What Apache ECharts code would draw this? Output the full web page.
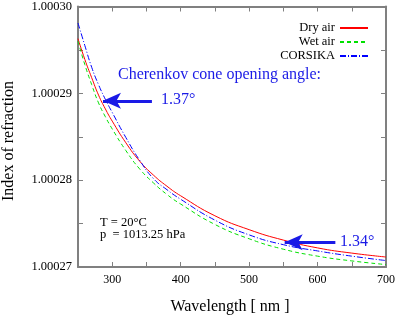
<!DOCTYPE html>
<html>
<head>
<meta charset="utf-8">
<script src="https://cdn.jsdelivr.net/npm/echarts@6/dist/echarts.min.js"></script>
<style>html,body{margin:0;padding:0;background:#fff;}#c{width:398px;height:317px;}</style>
</head>
<body>
<div id="c"></div>
<script>
// wavelength in nm
var wavelengths = [250, 260, 270, 280, 290, 300, 320, 340, 360, 380, 400, 450, 500, 550, 600, 650, 700];
// (n - 1) in units of 1e-6
var dryAir   = [296.3, 293.9, 291.8, 289.8, 288.2, 286.8, 284.3, 282.2, 280.6, 279.3, 278.2, 275.9, 274.3, 273.1, 272.2, 271.6, 271.15];
var wetAir   = [296.0, 293.3, 291.0, 288.9, 287.3, 285.9, 283.4, 281.3, 279.7, 278.35, 277.25, 274.9, 273.25, 272.05, 271.25, 270.7, 270.28];
var corsika  = [298.1, 295.5, 293.0, 291.0, 289.3, 287.8, 284.9, 282.3, 280.2, 278.9, 277.8, 275.4, 273.7, 272.57, 271.85, 271.25, 270.74];
var xTickLabels = [300, 400, 500, 600, 700];
var yTickLabels = ['1.00027', '1.00028', '1.00029', '1.00030'];
var arrow1 = [[358, 289.14], [286.5, 289.14]];
var arrow2 = [[626, 272.86], [552, 272.86]];

function pairs(ys) { return wavelengths.map(function (x, i) { return [x, ys[i]]; }); }

var serif = 'Liberation Serif';
var gray = '#808080';
var blue = '#1a1ae6';

var chart = echarts.init(document.getElementById('c'));
var axisCommon = {
  type: 'value',
  axisLine: { show: true, lineStyle: { color: gray, width: 2 } },
  axisTick: { show: true, inside: true, length: 5, lineStyle: { color: gray, width: 1 } },
  splitLine: { show: false }
};
chart.setOption({
  animation: false,
  grid: { left: 78, right: 12, top: 5, bottom: 50, containLabel: false },
  xAxis: [
    Object.assign({}, axisCommon, {
      position: 'bottom', min: 250, max: 700, interval: 50,
      axisLabel: { fontFamily: serif, fontSize: 12, color: '#000', margin: 7,
        formatter: function (v) { return xTickLabels.indexOf(v) >= 0 ? String(v) : ''; } }
    }),
    Object.assign({}, axisCommon, {
      position: 'top', min: 250, max: 700, interval: 50, axisLabel: { show: false }
    })
  ],
  yAxis: [
    Object.assign({}, axisCommon, {
      position: 'left', min: 270, max: 300, interval: 5,
      axisLabel: { fontFamily: serif, fontSize: 12.5, color: '#000', margin: 6,
        formatter: function (v) {
          var idx = Math.round((v - 270) / 10);
          return (Math.round(v) % 10 === 0) ? yTickLabels[idx] : '';
        } }
    }),
    Object.assign({}, axisCommon, {
      position: 'right', min: 270, max: 300, interval: 5, axisLabel: { show: false }
    })
  ],
  legend: {
    orient: 'vertical', right: 29, top: 21, align: 'right', padding: 0,
    itemWidth: 28, itemHeight: 10, itemGap: 0,
    itemStyle: { opacity: 0 },
    textStyle: { fontFamily: serif, fontSize: 12.5, color: '#000', padding: [0, 0, 0, 0], lineHeight: 14 },
    data: ['Dry air', 'Wet air', 'CORSIKA']
  },
  series: [
    { name: 'Dry air', type: 'line', smooth: true, symbol: 'none', data: pairs(dryAir),
      lineStyle: { color: '#ff0000', width: 1 }, itemStyle: { color: '#ff0000' },
      markLine: {
        silent: true, symbol: ['none', 'arrow'], symbolSize: [12, 18], animation: false,
        lineStyle: { color: blue, width: 3, type: 'solid' }, label: { show: false },
        data: [
          [{ coord: arrow1[0] }, { coord: arrow1[1] }],
          [{ coord: arrow2[0] }, { coord: arrow2[1] }]
        ]
      }
    },
    { name: 'Wet air', type: 'line', smooth: true, symbol: 'none', data: pairs(wetAir),
      lineStyle: { color: '#00e000', width: 1, type: [4, 3] }, itemStyle: { color: '#00e000' } },
    { name: 'CORSIKA', type: 'line', smooth: true, symbol: 'none', data: pairs(corsika),
      lineStyle: { color: '#0000ff', width: 1, type: [6, 2, 1, 2] }, itemStyle: { color: '#0000ff' } }
  ],
  graphic: [
    { type: 'text', left: 118, top: 67, style: { text: 'Cherenkov cone opening angle:', font: '16px "Liberation Serif"', fill: blue } },
    { type: 'text', left: 161, top: 92, style: { text: '1.37°', font: '16px "Liberation Serif"', fill: blue } },
    { type: 'text', left: 340, top: 234, style: { text: '1.34°', font: '16px "Liberation Serif"', fill: blue } },
    { type: 'text', left: 100, top: 216, style: { text: 'T = 20°C', font: '12.5px "Liberation Serif"', fill: '#000' } },
    { type: 'text', left: 100, top: 228, style: { text: 'p  = 1013.25 hPa', font: '12.5px "Liberation Serif"', fill: '#000' } },
    { type: 'text', x: 230, y: 307, style: { text: 'Wavelength [ nm ]', font: '16px "Liberation Serif"', fill: '#000', textAlign: 'center', textVerticalAlign: 'middle' } },
    { type: 'text', x: 9, y: 141, rotation: Math.PI / 2, style: { text: 'Index of refraction', font: '16px "Liberation Serif"', fill: '#000', textAlign: 'center', textVerticalAlign: 'middle' } }
  ]
});
</script>
</body>
</html>
